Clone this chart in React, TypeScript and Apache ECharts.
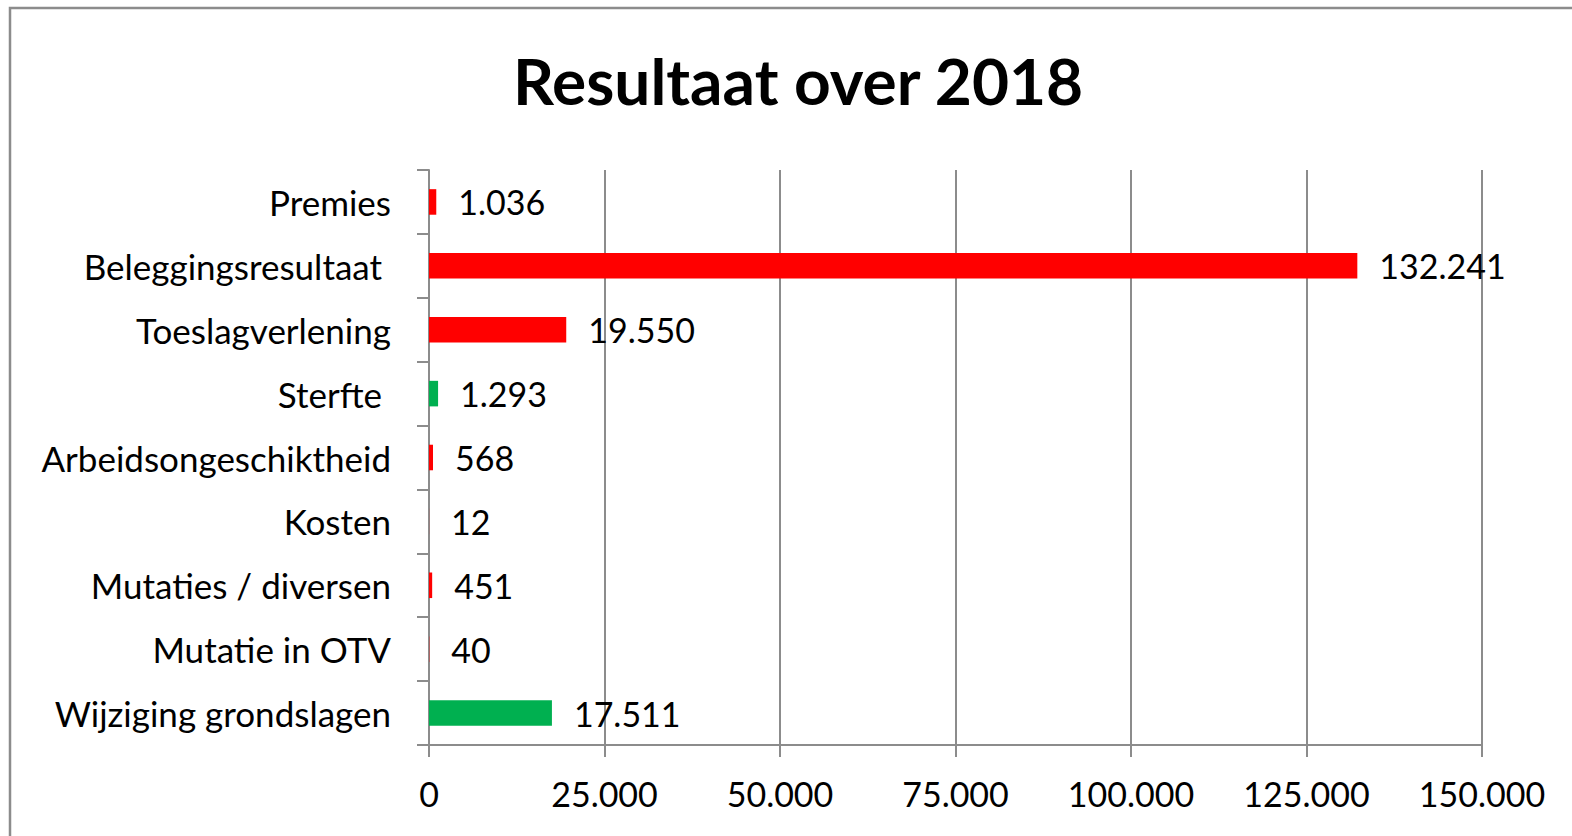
import React, { useEffect, useRef } from "react";
import * as echarts from "echarts";

const categories = [
  "Premies",
  "Beleggingsresultaat ",
  "Toeslagverlening",
  "Sterfte ",
  "Arbeidsongeschiktheid",
  "Kosten",
  "Mutaties / diversen",
  "Mutatie in OTV",
  "Wijziging grondslagen",
];
const values = [1036, 132241, 19550, 1293, 568, 12, 451, 40, 17511];
const barColors = ["#FF0000", "#FF0000", "#FF0000", "#00B050", "#FF0000", "#FF0000", "#FF0000", "#FF0000", "#00B050"];
const xMin = 0;
const xMax = 150000;
const xStep = 25000;
const titleText = "Resultaat over 2018";

const FONT = "Lato";

function nl(n: number): string {
  const s = Math.round(n).toString();
  return s.replace(/\B(?=(\d{3})+(?!\d))/g, ".");
}

export default function App() {
  const ref = useRef<HTMLDivElement>(null);
  useEffect(() => {
    if (!ref.current) return;
    const chart = echarts.init(ref.current, null, { renderer: "svg" });
    const gray = "#8C8C8C";
    chart.setOption({
      animation: false,
      backgroundColor: "#FFFFFF",
      title: {
        text: titleText,
        left: 513,
        top: 48,
        padding: 0,
        textStyle: { fontFamily: FONT, fontWeight: "bold", fontSize: 64, color: "#000" },
      },
      graphic: [
        {
          type: "rect",
          shape: { x: 10, y: 8, width: 1700, height: 1000 },
          style: { fill: "none", stroke: gray, lineWidth: 2.5 },
          z: 100,
        },
      ],
      grid: { left: 429, right: 90, top: 170, bottom: 91, containLabel: false },
      xAxis: {
        type: "value",
        min: xMin,
        max: xMax,
        interval: xStep,
        axisLine: { show: true, lineStyle: { color: gray, width: 2 } },
        axisTick: { show: true, length: 12, lineStyle: { color: gray, width: 2 } },
        splitLine: { show: true, lineStyle: { color: gray, width: 2 } },
        axisLabel: {
          margin: 31,
          fontFamily: FONT,
          fontSize: 34,
          color: "#000",
          formatter: (v: number) => nl(v),
        },
      },
      yAxis: {
        type: "category",
        inverse: true,
        data: categories,
        axisLine: { show: true, lineStyle: { color: gray, width: 2 } },
        axisTick: { show: true, length: 12, lineStyle: { color: gray, width: 2 } },
        axisLabel: { margin: 38, fontFamily: FONT, fontSize: 35, color: "#000", padding: [0, 0, 4, 0] },
      },
      series: [
        {
          type: "bar",
          barWidth: "40%",
          data: values.map((v, i) => ({ value: v, itemStyle: { color: barColors[i] } })),
          label: {
            show: true,
            position: "right",
            distance: 22,
            fontFamily: FONT,
            fontSize: 34,
            color: "#000",
            formatter: (p: any) => nl(p.value),
          },
        },
      ],
    });
    return () => chart.dispose();
  }, []);
  return (
    <div
      ref={ref}
      style={{ position: "fixed", left: 0, top: 0, width: 1572, height: 836 }}
    />
  );
}
